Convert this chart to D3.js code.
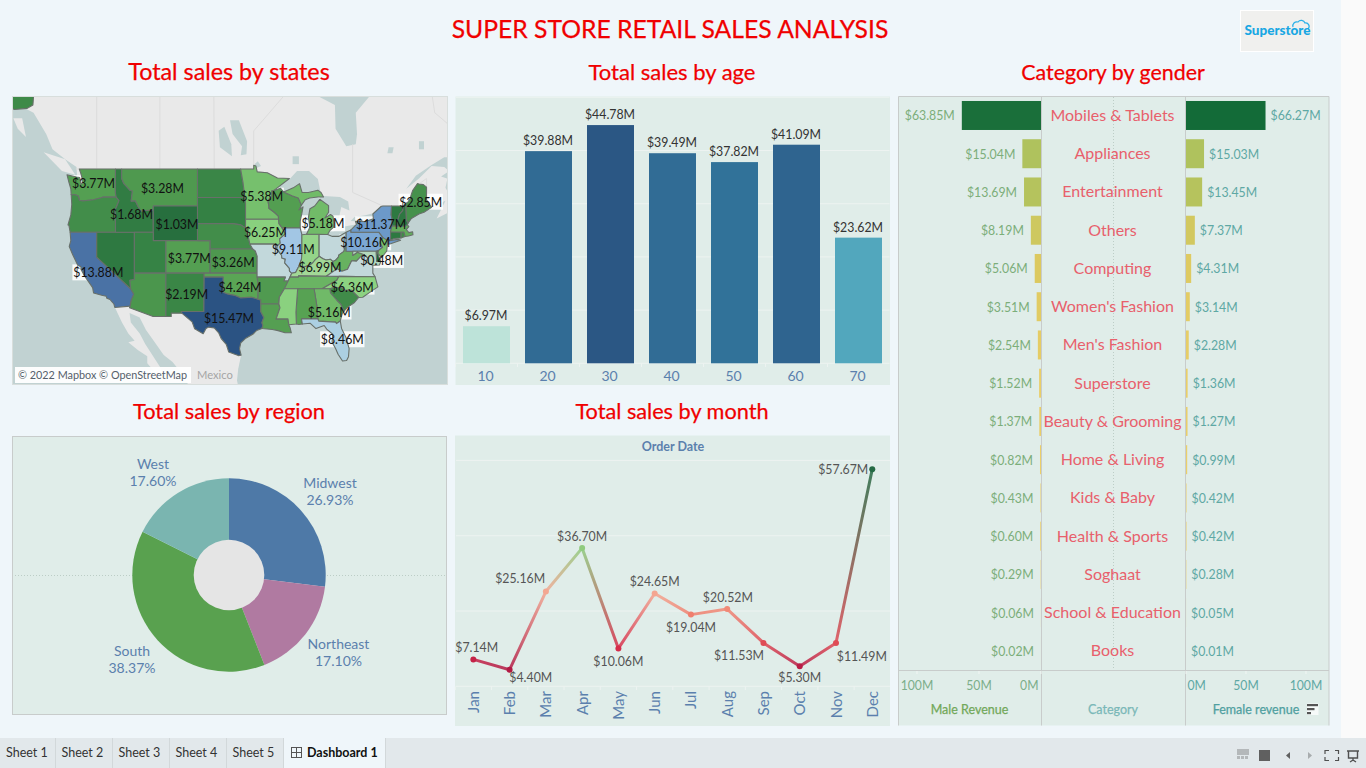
<!DOCTYPE html>
<html>
<head>
<meta charset="utf-8">
<script src="https://cdn.jsdelivr.net/npm/d3@7"></script>
<style>
html,body{margin:0;padding:0;background:#eff6fa;overflow:hidden}
svg{display:block}
text{font-family:Lato,"Open Sans",sans-serif}
</style>
</head>
<body>
<svg id="c" width="1366" height="768"></svg>
<script>
// ---------- DATA ----------
const ageLabels = ["10","20","30","40","50","60","70"];
const ageSales = [6.97,39.88,44.78,39.49,37.82,41.09,23.62];
const regionNames = ["Midwest","Northeast","South","West"];
const regionShares = [26.93,17.10,38.37,17.60];
const months = ["Jan","Feb","Mar","Apr","May","Jun","Jul","Aug","Sep","Oct","Nov","Dec"];
const monthSales = [7.14,4.40,25.16,36.70,10.06,24.65,19.04,20.52,11.53,5.30,11.49,57.67];
const categories = ["Mobiles & Tablets","Appliances","Entertainment","Others","Computing","Women's Fashion","Men's Fashion","Superstore","Beauty & Grooming","Home & Living","Kids & Baby","Health & Sports","Soghaat","School & Education","Books"];
const maleRevenue = [63.85,15.04,13.69,8.19,5.06,3.51,2.54,1.52,1.37,0.82,0.43,0.60,0.29,0.06,0.02];
const femaleRevenue = [66.27,15.03,13.45,7.37,4.31,3.14,2.28,1.36,1.27,0.99,0.42,0.42,0.28,0.05,0.01];
const tabNames = ["Sheet 1","Sheet 2","Sheet 3","Sheet 4","Sheet 5"];

// state sales ($M); unlabelled states are estimated from their colour
const stateSales = {WA:3.77,OR:2.6,CA:13.88,NV:1.5,ID:1.68,MT:3.28,WY:1.03,UT:2.0,CO:3.77,AZ:3.1,NM:2.19,ND:2.2,SD:1.9,NE:2.6,KS:3.26,OK:4.24,TX:15.47,MN:5.38,IA:6.25,MO:7.7,AR:3.4,LA:3.8,WI:3.7,IL:9.11,IN:6.6,OH:7.7,MI:5.18,KY:6.99,TN:4.9,WV:4.8,VA:7.7,NC:6.36,SC:2.5,GA:5.16,AL:4.0,MS:6.3,FL:8.46,PA:10.16,NY:11.37,NJ:5.5,DE:0.48,MD:7.4,CT:1.5,RI:2.5,MA:4.6,VT:1.5,NH:1.4,ME:2.85,AK:2.4};
const mapLabelStates = ["WA","MT","MN","ID","WY","IA","MI","NY","PA","IL","CO","KS","KY","DE","NC","OK","NM","CA","TX","GA","FL","ME"];
const mapLabelLonLat = [[-120.5,47.5],[-109.6,46.95],[-93.9,46.15],[-114.5,44.06],[-107.3,42.92],[-93.3,41.98],[-84.2,43.04],[-75.0,42.92],[-77.5,40.8],[-88.9,39.96],[-105.35,38.86],[-98.4,38.36],[-84.66,37.74],[-74.9,38.65],[-79.55,35.28],[-97.33,35.28],[-105.76,34.28],[-119.75,37.1],[-99.07,31.08],[-83.19,32.0],[-81.13,28.2],[-68.72,45.48]];

// simplified state outlines [lon,lat]
const stateOutlines = {
WA:[[-124.7,48.38],[-123.2,48.15],[-122.7,48.1],[-122.5,47.4],[-122.3,47.5],[-122.3,48],[-122.5,48.5],[-122.76,49],[-117.03,49],[-117.04,46.42],[-116.92,45.99],[-118.98,46],[-119.3,45.93],[-120.5,45.7],[-121.2,45.65],[-122.2,45.58],[-122.75,45.65],[-122.9,46.1],[-123.4,46.25],[-124.05,46.27],[-124.1,46.9],[-124.4,47.6]],
OR:[[-124.05,46.27],[-123.4,46.25],[-122.9,46.1],[-122.75,45.65],[-122.2,45.58],[-121.2,45.65],[-120.5,45.7],[-119.3,45.93],[-118.98,46],[-116.92,45.99],[-116.47,45.6],[-116.85,44.95],[-117.2,44.45],[-117.03,44.2],[-117.03,42],[-124.21,42],[-124.4,42.8],[-124.55,42.84],[-124.1,44],[-123.95,45.2]],
CA:[[-124.21,42],[-120,42],[-120,39],[-114.63,35],[-114.14,34.3],[-114.53,33.5],[-114.72,32.72],[-117.12,32.53],[-117.3,33],[-117.9,33.6],[-118.4,33.75],[-118.5,34.03],[-119.2,34.15],[-120.5,34.45],[-120.65,35.15],[-121.9,36.6],[-122.5,37.5],[-122.5,37.8],[-123,38],[-123.8,39.3],[-124.35,40.3],[-124.1,41]],
NV:[[-120,42],[-114.04,42],[-114.04,36.2],[-114.75,36.1],[-114.63,35],[-120,39]],
ID:[[-117.03,49],[-116.05,49],[-116.05,48],[-115.7,47.45],[-114.75,46.75],[-114.35,46.65],[-114.55,45.55],[-113.9,45.6],[-113.45,44.95],[-113,44.45],[-111.5,44.55],[-111.05,44.47],[-111.05,42],[-117.03,42],[-117.03,44.2],[-117.2,44.45],[-116.85,44.95],[-116.47,45.6],[-116.92,45.99],[-117.04,46.42]],
MT:[[-116.05,49],[-104.05,49],[-104.05,45],[-111.05,45],[-111.05,44.47],[-111.5,44.55],[-113,44.45],[-113.45,44.95],[-113.9,45.6],[-114.55,45.55],[-114.35,46.65],[-114.75,46.75],[-115.7,47.45],[-116.05,48]],
WY:[[-111.05,45],[-104.05,45],[-104.05,41],[-111.05,41]],
UT:[[-114.04,42],[-111.05,42],[-111.05,41],[-109.05,41],[-109.05,37],[-114.04,37]],
CO:[[-109.05,41],[-102.05,41],[-102.05,37],[-109.05,37]],
AZ:[[-114.75,36.1],[-114.04,36.2],[-114.04,37],[-109.05,37],[-109.05,31.33],[-111.07,31.33],[-114.81,32.5],[-114.72,32.72],[-114.53,33.5],[-114.14,34.3],[-114.63,35]],
NM:[[-109.05,37],[-103,37],[-103.04,32],[-106.62,32],[-106.53,31.78],[-108.21,31.78],[-108.21,31.33],[-109.05,31.33]],
ND:[[-104.05,49],[-97.23,49],[-96.85,47.6],[-96.56,45.94],[-104.05,45.94]],
SD:[[-104.05,45.94],[-96.56,45.94],[-96.45,45.3],[-96.45,43.5],[-96.45,42.49],[-97.2,42.85],[-98.5,43],[-104.05,43]],
NE:[[-104.05,43],[-98.5,43],[-97.2,42.85],[-96.45,42.49],[-96.1,41.7],[-95.85,40.9],[-95.31,40],[-102.05,40],[-102.05,41],[-104.05,41]],
KS:[[-102.05,40],[-95.31,40],[-94.9,39.75],[-94.61,39.1],[-94.62,37],[-102.05,37]],
OK:[[-103,37],[-94.62,37],[-94.43,35.4],[-94.48,33.64],[-95.5,33.9],[-96.6,33.85],[-97.2,33.8],[-98.1,34.13],[-99.2,34.3],[-100,34.56],[-100,36.5],[-103,36.5]],
TX:[[-103,36.5],[-100,36.5],[-100,34.56],[-99.2,34.3],[-98.1,34.13],[-97.2,33.8],[-96.6,33.85],[-95.5,33.9],[-94.48,33.64],[-94.04,33.55],[-94.04,32],[-93.55,31.2],[-93.85,30.5],[-93.7,30.1],[-93.85,29.7],[-94.7,29.4],[-95.3,28.9],[-96.4,28.35],[-97.2,27.7],[-97.4,26.9],[-97.15,25.96],[-97.6,25.9],[-99.1,26.4],[-99.5,27.5],[-100.3,28.3],[-100.7,29.1],[-101.4,29.77],[-102.3,29.88],[-102.7,29.7],[-103.15,28.98],[-104.5,29.65],[-104.9,30.6],[-106.53,31.78],[-106.62,32],[-103.04,32]],
MN:[[-97.23,49],[-95.15,49],[-95.15,49.38],[-94.8,49.3],[-94.6,48.7],[-93,48.6],[-91.4,48.05],[-89.5,48],[-92,46.7],[-92.3,46.65],[-92.3,46.1],[-92.9,45.6],[-92.75,45],[-92.75,44.75],[-91.9,44.3],[-91.25,43.85],[-91.22,43.5],[-96.45,43.5],[-96.45,45.3],[-96.56,45.94],[-96.85,47.6]],
IA:[[-96.45,43.5],[-91.22,43.5],[-91.15,43],[-90.65,42.5],[-90.15,41.8],[-91.05,41.2],[-90.95,40.7],[-91.42,40.38],[-91.72,40.6],[-95.77,40.58],[-95.85,40.9],[-96.1,41.7],[-96.45,42.49]],
MO:[[-95.77,40.58],[-91.72,40.6],[-91.42,40.38],[-91.5,40],[-90.75,39.25],[-90.7,38.9],[-90.15,38.75],[-90.25,38.3],[-89.5,37.6],[-89.5,37.3],[-89.13,36.98],[-89.4,36.5],[-89.7,36],[-90.37,36],[-90.15,36.5],[-94.62,36.5],[-94.62,37],[-94.61,39.1],[-94.9,39.75],[-95.31,40]],
AR:[[-94.62,36.5],[-90.15,36.5],[-90.37,36],[-89.7,36],[-90.1,35.1],[-90.3,35],[-90.6,34.6],[-91.1,33.9],[-91.17,33],[-94.04,33],[-94.04,33.55],[-94.48,33.64],[-94.43,35.4]],
LA:[[-94.04,33],[-91.17,33],[-91,32.5],[-91.6,31],[-89.73,31],[-89.6,30.2],[-89.4,29.8],[-89.2,29.1],[-90.2,29.1],[-91.3,29.4],[-92.2,29.55],[-93.85,29.7],[-93.7,30.1],[-93.85,30.5],[-93.55,31.2],[-94.04,32]],
WI:[[-92,46.7],[-90.9,46.95],[-90.4,46.55],[-89.1,46.15],[-88.1,45.9],[-87.6,45.1],[-88,44.55],[-87.35,44.9],[-87.5,44.3],[-87.8,43.3],[-87.8,42.49],[-90.65,42.5],[-91.15,43],[-91.22,43.5],[-91.25,43.85],[-91.9,44.3],[-92.75,44.75],[-92.75,45],[-92.9,45.6],[-92.3,46.1],[-92.3,46.65]],
IL:[[-90.65,42.5],[-87.8,42.49],[-87.53,41.7],[-87.53,39.35],[-87.6,38.7],[-88.05,37.8],[-88.5,37.1],[-89.13,36.98],[-89.5,37.3],[-89.5,37.6],[-90.25,38.3],[-90.15,38.75],[-90.7,38.9],[-90.75,39.25],[-91.5,40],[-91.42,40.38],[-90.95,40.7],[-91.05,41.2],[-90.15,41.8]],
IN:[[-87.53,41.7],[-86.8,41.76],[-84.8,41.76],[-84.8,39.1],[-85.4,38.7],[-85.8,38.3],[-86.3,38],[-87.1,37.8],[-88.05,37.8],[-87.6,38.7],[-87.53,39.35]],
OH:[[-84.8,41.76],[-83.45,41.72],[-82.7,41.5],[-81.7,41.5],[-80.52,41.98],[-80.52,40.64],[-80.6,40.6],[-80.87,39.7],[-81.7,39.25],[-81.75,39],[-82.2,38.6],[-82.6,38.45],[-83,38.73],[-83.7,38.65],[-84.2,38.8],[-84.8,39.1]],
MI:[[-86.8,41.76],[-84.8,41.76],[-83.45,41.72],[-83.1,42.2],[-82.5,42.6],[-82.45,43],[-82.6,43.85],[-83,44.05],[-83.9,43.65],[-83.3,44.3],[-83.3,45.05],[-84.7,45.75],[-85.5,45],[-86.25,44.7],[-86.5,43.7],[-86.25,42.6]],
MIU:[[-90.4,46.55],[-89.1,46.15],[-88.1,45.9],[-87.6,45.1],[-87,45.7],[-86.3,45.9],[-85,46],[-84.1,46],[-84.5,46.5],[-85,46.75],[-86.5,46.5],[-87.5,46.5],[-87.9,47.45],[-88.9,47]],
KY:[[-89.4,36.5],[-89.13,36.98],[-88.5,37.1],[-88.05,37.8],[-87.1,37.8],[-86.3,38],[-85.8,38.3],[-85.4,38.7],[-84.8,39.1],[-84.2,38.8],[-83.7,38.65],[-83,38.73],[-82.6,38.45],[-82.6,37.9],[-81.97,37.54],[-83.67,36.6],[-88.07,36.65],[-88.07,36.5]],
TN:[[-90.3,35],[-89.7,36],[-89.4,36.5],[-88.07,36.5],[-88.07,36.65],[-83.67,36.6],[-81.68,36.59],[-82,36.1],[-84.32,35]],
WV:[[-82.6,38.45],[-82.2,38.6],[-81.75,39],[-81.7,39.25],[-80.87,39.7],[-80.6,40.6],[-80.52,40.64],[-80.52,39.72],[-79.48,39.72],[-79.48,39.2],[-78.75,39.6],[-77.75,39.33],[-78.3,39],[-78.9,38.5],[-79.65,38.55],[-80.3,37.5],[-81.2,37.25],[-81.97,37.54],[-82.6,37.9]],
VA:[[-83.67,36.6],[-81.97,37.54],[-81.2,37.25],[-80.3,37.5],[-79.65,38.55],[-78.9,38.5],[-78.3,39],[-77.75,39.33],[-77.1,38.9],[-77.3,38.4],[-76.3,38],[-76.3,37],[-75.95,36.55],[-81.68,36.59]],
NC:[[-84.32,35],[-82,36.1],[-81.68,36.59],[-75.95,36.55],[-75.5,35.25],[-76.5,34.7],[-77.9,33.9],[-78.55,33.86],[-79.67,34.8],[-80.8,34.82],[-81.05,35.1],[-82.3,35.2],[-83.1,35]],
SC:[[-83.1,35],[-82.3,35.2],[-81.05,35.1],[-80.8,34.82],[-79.67,34.8],[-78.55,33.86],[-79.2,33.2],[-80.4,32.5],[-80.85,32.05],[-81.4,33],[-82,33.5],[-83,34.45]],
GA:[[-85.6,35],[-84.32,35],[-83.1,35],[-83,34.45],[-82,33.5],[-81.4,33],[-80.85,32.05],[-81.15,31.7],[-81.45,30.72],[-82.05,30.37],[-82.2,30.57],[-84.86,30.7],[-85,31],[-85.05,31.5],[-85.18,32.87]],
AL:[[-88.2,35],[-85.6,35],[-85.18,32.87],[-85.05,31.5],[-85,31],[-87.6,31],[-87.45,30.3],[-88,30.25],[-88.4,30.3],[-88.47,31.9]],
MS:[[-90.3,35],[-88.2,35],[-88.47,31.9],[-88.4,30.3],[-89.6,30.2],[-89.73,31],[-91.6,31],[-91,32.5],[-91.17,33],[-91.1,33.9],[-90.6,34.6]],
FL:[[-87.6,31],[-85,31],[-84.86,30.7],[-82.2,30.57],[-82.05,30.37],[-81.45,30.72],[-81.25,29.7],[-80.55,28.45],[-80.05,26.9],[-80.15,25.75],[-80.45,25.2],[-81.1,25.13],[-81.8,26.1],[-82.2,26.9],[-82.75,27.8],[-82.65,28.9],[-83.6,29.6],[-84,30.1],[-85.3,29.68],[-86.2,30.4],[-87.45,30.3]],
PA:[[-80.52,41.98],[-79.76,42.27],[-79.76,42],[-75.35,42],[-74.7,41.36],[-75.1,40.95],[-75.15,40.7],[-74.75,40.2],[-75.42,39.8],[-75.79,39.72],[-80.52,39.72],[-80.52,40.64]],
NY:[[-79.76,42.27],[-78.9,42.9],[-79.05,43.27],[-77.5,43.25],[-76.2,43.55],[-76.3,44.1],[-75,44.95],[-74.7,45],[-73.34,45],[-73.4,44],[-73.25,43.55],[-73.27,42.75],[-73.5,42.05],[-73.49,41.2],[-73.65,41],[-72.3,41.15],[-71.9,41.05],[-73.6,40.6],[-74,40.6],[-74,41],[-74.7,41.36],[-75.35,42],[-79.76,42]],
NJ:[[-74.7,41.36],[-74,41],[-74,40.5],[-74.1,39.75],[-74.9,38.95],[-75.55,39.5],[-75.42,39.8],[-74.75,40.2],[-75.15,40.7],[-75.1,40.95]],
DE:[[-75.79,39.72],[-75.42,39.8],[-75.55,39.5],[-75.05,38.45],[-75.7,38.46]],
MD:[[-79.48,39.72],[-75.79,39.72],[-75.7,38.46],[-75.05,38.45],[-75.25,38.03],[-75.95,38],[-76.3,38],[-77.3,38.4],[-77.1,38.9],[-77.75,39.33],[-78.75,39.6],[-79.48,39.2]],
CT:[[-73.5,42.05],[-71.8,42.02],[-71.85,41.32],[-72.9,41.25],[-73.65,41],[-73.49,41.2]],
RI:[[-71.8,42.02],[-71.38,42.02],[-71.2,41.5],[-71.85,41.32]],
MA:[[-73.27,42.75],[-71.3,42.7],[-70.85,42.88],[-70.6,42.65],[-71,42.3],[-70.6,41.95],[-70,42.05],[-69.95,41.7],[-70.65,41.55],[-71.2,41.5],[-71.38,42.02],[-71.8,42.02],[-73.5,42.05]],
VT:[[-73.34,45],[-71.5,45],[-71.55,44.5],[-72.05,44.1],[-72.45,43.2],[-72.46,42.73],[-73.27,42.75],[-73.25,43.55],[-73.4,44]],
NH:[[-71.5,45],[-71.08,45.3],[-70.98,43.4],[-70.7,43.08],[-70.85,42.88],[-71.3,42.7],[-72.46,42.73],[-72.45,43.2],[-72.05,44.1],[-71.55,44.5]],
ME:[[-71.08,45.3],[-70.8,45.4],[-70.4,45.8],[-70.25,46.2],[-70,46.7],[-69.23,47.46],[-69,47.42],[-68.3,47.35],[-67.8,47.07],[-67.8,45.7],[-67.45,45.3],[-67,44.85],[-68.2,44.3],[-69,44.1],[-70.2,43.6],[-70.7,43.08],[-70.98,43.4]],
AK:[[-136,58],[-130,58],[-130,56],[-130.1,55.2],[-131,54.9],[-133,54.8],[-134,55],[-136,55]]
};
stateSales.MIU = stateSales.MI;

// base map geography
const landOutline = [[-136,60],[-136,56],[-131,54.8],[-130,54.5],[-128,52.5],[-127,51],[-125,50],[-123.2,49.2],[-123,47],[-123.5,43],[-122,38],[-118.5,34.5],[-117.12,32.53],[-116,30.5],[-115,29],[-114,28],[-115,27.8],[-113.5,26.7],[-112,25.8],[-112,24.8],[-110.3,23],[-109.5,23],[-110,24.3],[-111.2,26],[-112.3,27.5],[-113.2,29],[-114.6,30.5],[-114.8,31.8],[-113.2,31.2],[-112.2,29.5],[-110.9,27.9],[-109.4,26],[-108,25],[-106.5,23.3],[-105.4,21.5],[-105.4,19],[-97,19],[-97.5,21],[-97.8,22.3],[-97.6,24],[-97.15,25.96],[-97.5,28],[-94,30.5],[-89.5,31],[-84,31],[-81.5,31],[-77,35.5],[-76.5,37],[-77,38],[-74.5,40.5],[-70.5,43.5],[-67.5,45],[-66,45.2],[-64.8,45.6],[-66.2,43.6],[-64.5,44.2],[-63,44.7],[-61,45.3],[-60,46.2],[-60.5,47],[-61.5,45.8],[-64,46],[-64.8,47],[-64.5,48],[-65.5,48.2],[-64.2,48.8],[-65,49.2],[-67,49.3],[-69,48],[-71,46.9],[-69.5,48.3],[-67,49.4],[-65,50.2],[-61,50.2],[-58,51.5],[-56,52],[-55.5,54],[-60,56],[-60,60]];
const islandOutlines = [[[-128.4,50.7],[-125.5,48.8],[-123.4,48.4],[-125,50]],[[-133.2,54],[-131.8,54],[-131.2,52.2],[-132.5,53]]];
const waterBodies = [
[[-85,56],[-82.3,55.2],[-82.2,53],[-80.5,51.3],[-79,51.5],[-78.8,52.5],[-79,54.5],[-76.5,56.2],[-80,57],[-85,57]],
[[-92.1,46.75],[-90.5,47.6],[-89.3,48.05],[-88.3,48.8],[-86.4,48.8],[-85,47.95],[-84.6,46.6],[-86.5,46.5],[-87.5,46.5],[-87.9,47.45],[-88.9,47],[-90.4,46.55],[-90.9,46.95]],
[[-87.8,42.5],[-87.53,41.7],[-86.8,41.76],[-86.25,42.6],[-86.5,43.7],[-86.25,44.7],[-85.5,45],[-84.7,45.75],[-85,46],[-86.3,45.9],[-87,45.7],[-87.6,45.1],[-88,44.55],[-87.35,44.9],[-87.5,44.3],[-87.8,43.3]],
[[-84.7,45.75],[-83.3,45.05],[-83.3,44.3],[-83.9,43.65],[-83,44.05],[-82.45,43],[-81.7,43.5],[-81.3,44.9],[-80,44.5],[-80.2,45.5],[-81.5,46],[-84,46.1],[-84.7,46]],
[[-83.45,41.72],[-82.7,41.5],[-81.7,41.5],[-80.52,41.98],[-79.76,42.27],[-78.9,42.9],[-79.5,42.85],[-81,42.65],[-82.5,42.1],[-83.1,42.1]],
[[-79.8,43.3],[-79.05,43.27],[-77.5,43.25],[-76.2,43.55],[-76.4,44.15],[-77.5,43.95],[-79.2,43.75]],
[[-97.2,50.4],[-96.3,50.5],[-96.2,51.8],[-97.5,53.8],[-98.9,53.8],[-98.5,52.5],[-97,51.3]],
[[-100.5,51.2],[-98.6,50.3],[-98.7,51.5],[-99.8,53.2],[-100.7,52.8]],
[[-89,49.5],[-88,49.5],[-88,50.3],[-89,50.3]],
[[-95,49],[-94,49.3],[-94.5,49.8],[-95,49.5]],
[[-74,50.6],[-73.2,50.6],[-73,51.2],[-73.8,51.2]],
[[-69,51],[-68.2,51],[-68.2,51.8],[-69,51.8]]
];
const provinceBorders = [
[[-120,49],[-120,60]],[[-110,49],[-110,60]],[[-101.4,49],[-101.5,60]],
[[-95.15,49.4],[-95.15,52.8],[-89,56.9]],[[-79.5,46.5],[-79.5,51.5]],
[[-123.3,49],[-95.15,49]],
[[-67.8,47.07],[-67.8,48],[-69,47.42]],[[-71.5,45],[-74.7,45],[-79.5,46.5]],
[[-66.9,56],[-66.5,54.5],[-64.5,53.5],[-63.5,52]],[[-132,55],[-130,56.2]]
];

// ---------- SCALES / HELPERS ----------
const svg = d3.select("#c");
const RED = "#f00000", PANEL = "#e0ede9", BLUE_TXT = "#5b80ad";
const money = v => "$" + v.toFixed(2) + "M";
// Lato's digits run wider than the reference's font: fit numeric text to the reference's width
const squeeze = (sel,r) => sel.each(function(){ this.setAttribute("lengthAdjust","spacingAndGlyphs"); this.setAttribute("textLength", this.getComputedTextLength()*r); });
function rect(x,y,w,h,fill,stroke){return svg.append("rect").attr("x",x).attr("y",y).attr("width",w).attr("height",h).attr("fill",fill).attr("stroke",stroke||"none");}
function title(t,x,y,s){svg.append("text").attr("x",x).attr("y",y).attr("text-anchor","middle").attr("font-size",s).attr("fill",RED).attr("stroke",RED).attr("stroke-width",.25).text(t);}

// page frame
rect(1341,0,25,738,"#fafafa");
title("SUPER STORE RETAIL SALES ANALYSIS",670,38,24.7);
title("Total sales by states",229,80,23.3);
title("Total sales by age",672,80,22);
title("Category by gender",1113,80,21.4);
title("Total sales by region",229,419,21.8);
title("Total sales by month",672,419,21.7);

// logo
rect(1240.5,10.5,73,41,"#f0f0ee","#ffffff");
svg.append("path").attr("d","M1293 27 a4 4 0 0 1 5 -5 a4 4 0 0 1 7 1 a3.5 3.5 0 0 1 3 6").attr("fill","none").attr("stroke","#2ab0e8").attr("stroke-width",1.2);
svg.append("text").attr("x",1277.5).attr("y",35).attr("text-anchor","middle").attr("font-size",13.5).attr("font-weight",900).attr("fill","#18a7e3").text("Superstore");

// ---------- MAP ----------
const mapX=13,mapY=97,mapW=434,mapH=287;
const projection = d3.geoMercator().scale(362).translate([854.9,525.1]);
const lonlatLine = d3.line().x(d=>projection(d)[0]).y(d=>projection(d)[1]);
svg.append("clipPath").attr("id","mapclip").append("rect").attr("x",mapX).attr("y",mapY).attr("width",mapW).attr("height",mapH);
const mapG = svg.append("g").attr("clip-path","url(#mapclip)");
mapG.append("rect").attr("x",mapX).attr("y",mapY).attr("width",mapW).attr("height",mapH).attr("fill","#c1d2d2");
mapG.append("path").attr("d",lonlatLine(landOutline)+"Z").attr("fill","#e9e9e9");
mapG.selectAll(".isl").data(islandOutlines).join("path").attr("d",d=>lonlatLine(d)+"Z").attr("fill","#e9e9e9");
mapG.selectAll(".wb").data(waterBodies).join("path").attr("d",d=>lonlatLine(d)+"Z").attr("fill","#c1d2d2");
mapG.selectAll(".pb").data(provinceBorders).join("path").attr("d",d=>lonlatLine(d)).attr("fill","none").attr("stroke","#dcdcdc").attr("stroke-width",1);

const stateColor = d3.scaleLinear()
 .domain([0.5,1.03,2,3.3,4.2,5.4,6.3,7,7.7,8.5,9.1,10.2,11.4,13.9,15.5])
 .range(["#206838","#276f3e","#368345","#4f994f","#59a454","#76c06d","#8ad17f","#a2d896","#c2d8db","#abd0e2","#a2c6e4","#7ba7d4","#6c99c9","#4a72a5","#2a5282"]);
const mapLabels = mapLabelStates.map((s,i)=>{const p=projection(mapLabelLonLat[i]);return {t:money(stateSales[s]),x:p[0],y:p[1]};});
// label halos sit under the state fills, so they only show over the base map
mapG.selectAll(".halo").data(mapLabels).join("rect").attr("x",d=>d.x-d.t.length*3.7).attr("y",d=>d.y-8).attr("width",d=>d.t.length*7.4).attr("height",16).attr("fill","#fff").attr("opacity",.88);
mapG.selectAll(".st").data(Object.keys(stateOutlines)).join("path")
 .attr("d",k=>lonlatLine(stateOutlines[k])+"Z")
 .attr("fill",k=>stateColor(stateSales[k]))
 .attr("stroke","#68706a").attr("stroke-width",1.1).attr("stroke-linejoin","round");
squeeze(mapG.selectAll(".ml").data(mapLabels).join("text").attr("x",d=>d.x).attr("y",d=>d.y+5).attr("text-anchor","middle").attr("font-size",14).attr("fill","#111").text(d=>d.t),.88);
rect(15,367,176,16,"#fff").attr("opacity",.95);
svg.append("text").attr("x",18).attr("y",379).attr("font-size",10.8).attr("fill","#555f6b").attr("lengthAdjust","spacingAndGlyphs").attr("textLength",169).text("© 2022 Mapbox © OpenStreetMap");
svg.append("text").attr("x",197).attr("y",379).attr("font-size",11.2).attr("fill","#a5a5a5").text("Mexico");
rect(mapX-.5,mapY-.5,mapW+1,mapH+1,"none","#d8dedc");

// ---------- BARS BY AGE ----------
rect(455.5,96.5,434.5,288.5,PANEL);
const ageX = d3.scaleBand().domain(ageLabels).range([455.5,889.5]).paddingInner(0.242).paddingOuter(0.121);
const ageY = d3.scaleLinear().domain([0,50]).range([363.3,97.3]);
const ageColor = d3.scaleLinear().domain([6.97,23.62,37.82,39.88,41.09,44.78]).range(["#bde3d9","#52a7bd","#317299","#316b94","#2f648f","#2b5784"]);
svg.append("g").selectAll("line").data(ageY.ticks(5)).join("line")
 .attr("x1",455.5).attr("x2",889.5).attr("y1",d=>ageY(d)).attr("y2",d=>ageY(d)).attr("stroke","#edf3f1").attr("stroke-width",1);
svg.append("g").selectAll("rect").data(ageSales).join("rect")
 .attr("x",(d,i)=>ageX(ageLabels[i])).attr("width",ageX.bandwidth()).attr("y",d=>ageY(d)).attr("height",d=>ageY(0)-ageY(d)).attr("fill",d=>ageColor(d));
squeeze(svg.append("g").selectAll("text").data(ageSales).join("text")
 .attr("x",(d,i)=>ageX(ageLabels[i])+ageX.bandwidth()/2-.5).attr("y",d=>ageY(d)-6).attr("text-anchor","middle").attr("font-size",14).attr("fill","#333").text(money),.88);
ageLabels.forEach((l,i)=>{
 const bs = ageX.step(), x0 = 455.5+i*bs;
 svg.append("line").attr("x1",x0).attr("x2",x0).attr("y1",363.3).attr("y2",367).attr("stroke","#edf3f1");
 svg.append("text").attr("x",ageX(l)+ageX.bandwidth()/2-1).attr("y",381).attr("text-anchor","middle").attr("font-size",14).attr("fill",BLUE_TXT).text(l);
});

// ---------- PIE ----------
rect(12.5,436.5,434,278,PANEL,"#c8cccb");
svg.append("line").attr("x1",15).attr("x2",445).attr("y1",575.5).attr("y2",575.5).attr("stroke","#bccdc6").attr("stroke-dasharray","1 2");
const pieC=[229,575], pieColor = d3.scaleOrdinal().domain(regionNames).range(["#4e79a7","#b07aa1","#59a14f","#7ab5b0"]);
const pie = d3.pie().sort(null).value((d,i)=>regionShares[i])(regionNames);
const pieG = svg.append("g").attr("transform",`translate(${pieC})`);
pieG.selectAll("path").data(pie).join("path").attr("d",d3.arc().innerRadius(0).outerRadius(96.7)).attr("fill",d=>pieColor(d.data));
pieG.append("circle").attr("r",35.3).attr("fill","#e5e5e5");
const pieLabelAnchor = [[330,483],[338.5,644],[132,651],[153,464]];
regionNames.forEach((n,i)=>{
 const g = svg.append("text").attr("text-anchor","middle").attr("font-size",14).attr("fill",BLUE_TXT);
 g.append("tspan").attr("x",pieLabelAnchor[i][0]).attr("y",pieLabelAnchor[i][1]+5).text(n);
 g.append("tspan").attr("x",pieLabelAnchor[i][0]).attr("y",pieLabelAnchor[i][1]+22).text(regionShares[i].toFixed(2)+"%");
});

// ---------- LINE ----------
rect(455,435.5,435,290.5,PANEL);
svg.append("text").attr("x",673).attr("y",451).attr("text-anchor","middle").attr("font-size",12.5).attr("font-weight",700).attr("fill",BLUE_TXT).text("Order Date");
const mX = d3.scaleBand().domain(months).range([455.2,890.4]);
const mY = d3.scaleLinear().domain([0,60]).range([686.3,460.4]);
const mC = d3.scaleLinear().domain([5.3,10.06,11.5,19,25,36.7,57.67]).range(["#b81c45","#d62c4a","#df4b55","#f07f6e","#f4a792","#8fcb7f","#246a44"]);
const cx = m => mX(m)+mX.bandwidth()/2;
svg.append("g").selectAll("line").data(mY.ticks(3)).join("line")
 .attr("x1",456).attr("x2",890).attr("y1",d=>mY(d)).attr("y2",d=>mY(d)).attr("stroke","#edf3f1");
months.forEach((m,i)=>{
 svg.append("line").attr("x1",mX(m)).attr("x2",mX(m)).attr("y1",686.3).attr("y2",690).attr("stroke","#edf3f1");
 svg.append("text").attr("transform",`translate(${cx(m)+5.5},691) rotate(-90)`).attr("text-anchor","end").attr("font-size",15).attr("fill",BLUE_TXT).text(m);
});
const defs = svg.append("defs");
months.slice(1).forEach((m,i)=>{
 const a=months[i], va=monthSales[i], vb=monthSales[i+1];
 const gr=defs.append("linearGradient").attr("id","seg"+i).attr("gradientUnits","userSpaceOnUse")
  .attr("x1",cx(a)).attr("y1",mY(va)).attr("x2",cx(m)).attr("y2",mY(vb));
 gr.append("stop").attr("offset",0).attr("stop-color",mC(va));
 gr.append("stop").attr("offset",1).attr("stop-color",mC(vb));
 svg.append("line").attr("x1",cx(a)).attr("y1",mY(va)).attr("x2",cx(m)).attr("y2",mY(vb))
  .attr("stroke",`url(#seg${i})`).attr("stroke-width",3).attr("stroke-linecap","round").attr("stroke-opacity",.85);
});
svg.append("g").selectAll("circle").data(monthSales).join("circle").attr("cx",(d,i)=>cx(months[i])).attr("cy",d=>mY(d)).attr("r",3).attr("fill",d=>mC(d));
const monthLabelOffset = [[3.4,-12.7],[21.2,7],[-25.7,-13.3],[0,-12.4],[0,12.3],[0,-12.8],[0,12.1],[.7,-12.3],[-24.5,11.8],[0,10.4],[25.8,12.7],[-29,-.5]];
squeeze(svg.append("g").selectAll("text").data(monthSales).join("text")
 .attr("x",(d,i)=>cx(months[i])+monthLabelOffset[i][0]).attr("y",(d,i)=>mY(d)+monthLabelOffset[i][1]+5).attr("text-anchor","middle").attr("font-size",14).attr("fill","#555").text(money),.88);

// ---------- CATEGORY BY GENDER ----------
rect(898.5,96.5,430.5,629,PANEL);
const rowY = d3.scaleBand().domain(categories).range([96.4,670]).paddingInner(0.242).paddingOuter(0.12);
const maleX = d3.scaleLinear().domain([0,100]).range([1041,917]);
const femX = d3.scaleLinear().domain([0,100]).range([1186,1306]);
const catC = d3.scaleLinear().domain([0,5,8,15,66.3]).range(["#eed06c","#dcc95f","#cfc85f","#afc25d","#136b38"]);
svg.append("line").attr("x1",1113.5).attr("x2",1113.5).attr("y1",97).attr("y2",670).attr("stroke","#bccdc6").attr("stroke-dasharray","1 2");
svg.append("g").selectAll("rect").data(maleRevenue).join("rect")
 .attr("x",d=>maleX(d)).attr("width",d=>maleX(0)-maleX(d)).attr("y",(d,i)=>rowY(categories[i])).attr("height",rowY.bandwidth()).attr("fill",d=>catC(d));
svg.append("g").selectAll("rect").data(femaleRevenue).join("rect")
 .attr("x",femX(0)).attr("width",d=>femX(d)-femX(0)).attr("y",(d,i)=>rowY(categories[i])).attr("height",rowY.bandwidth()).attr("fill",d=>catC(d));
const rowMid = c => rowY(c)+rowY.bandwidth()/2+5;
squeeze(svg.append("g").selectAll("text").data(maleRevenue).join("text").attr("x",d=>maleX(d)-7).attr("y",(d,i)=>rowMid(categories[i])).attr("text-anchor","end").attr("font-size",14).attr("fill","#7cae7a").text(money),.88);
squeeze(svg.append("g").selectAll("text").data(femaleRevenue).join("text").attr("x",d=>femX(d)+5).attr("y",(d,i)=>rowMid(categories[i])).attr("font-size",14).attr("fill","#5ea8a4").text(money),.88);
svg.append("g").selectAll("text").data(categories).join("text").attr("x",1112.5).attr("y",d=>rowMid(d)+.5).attr("text-anchor","middle").attr("font-size",16).attr("fill","#e8606c").text(d=>d);
// frame
[[898.5,96.5,898.5,725.5],[1329,96.5,1329,725.5],[898.5,96.5,1329,96.5],[1041.5,96.5,1041.5,725.5],[1185.5,96.5,1185.5,725.5],[898.5,670.5,1329,670.5]]
 .forEach(l=>svg.append("line").attr("x1",l[0]).attr("y1",l[1]).attr("x2",l[2]).attr("y2",l[3]).attr("stroke","#c8cccb"));
const axisTicks=[0,50,100];
axisTicks.forEach(t=>{
 const lx = maleX(t), rx = femX(t);
 svg.append("line").attr("x1",lx).attr("x2",lx).attr("y1",671).attr("y2",674).attr("stroke","#f2f6f4");
 svg.append("line").attr("x1",rx).attr("x2",rx).attr("y1",671).attr("y2",674).attr("stroke","#f2f6f4");
 squeeze(svg.append("text").attr("x",t===0?1038.5:lx).attr("y",690).attr("text-anchor",t===0?"end":"middle").attr("font-size",14).attr("fill","#7cae8a").text(t+"M"),.87);
 squeeze(svg.append("text").attr("x",t===0?1187.5:rx).attr("y",690).attr("text-anchor",t===0?"start":"middle").attr("font-size",14).attr("fill","#5ea8a4").text(t+"M"),.87);
});
svg.append("text").attr("x",969.5).attr("y",714).attr("text-anchor","middle").attr("font-size",12.5).attr("font-weight",400).attr("stroke","#72a85a").attr("stroke-width",.25).attr("fill","#72a85a").text("Male Revenue");
svg.append("text").attr("x",1113).attr("y",714).attr("text-anchor","middle").attr("font-size",12.5).attr("font-weight",400).attr("stroke","#7ab8b8").attr("stroke-width",.25).attr("fill","#7ab8b8").text("Category");
svg.append("text").attr("x",1256).attr("y",714).attr("text-anchor","middle").attr("font-size",12.5).attr("font-weight",400).attr("stroke","#4f9fa0").attr("stroke-width",.25).attr("fill","#4f9fa0").text("Female revenue");
rect(1307,703.5,11.5,11.5,"#fff").attr("opacity",.7);
rect(1307,704,11,2.2,"#555"); rect(1307,708,7.5,2.2,"#555"); rect(1307,712,4,2.2,"#555");

// ---------- TAB BAR ----------
rect(0,738,1366,30,"#e2e8eb");
const tabW=[55.5,57,57,57,57];
let tx=0;
tabNames.forEach((t,i)=>{
 svg.append("text").attr("x",tx+6).attr("y",757).attr("font-size",12.5).attr("fill","#333").text(t);
 tx+=tabW[i];
 svg.append("line").attr("x1",tx).attr("x2",tx).attr("y1",738).attr("y2",768).attr("stroke","#d2d8da");
});
rect(tx+.5,738,101,30,"#eff6fa");
svg.append("line").attr("x1",385.5).attr("x2",385.5).attr("y1",738).attr("y2",768).attr("stroke","#d2d8da");
[[291.5,747.5,10,10]].forEach(r=>{rect(r[0],r[1],r[2],r[3],"none","#555");
 svg.append("path").attr("d","M296.5 747.5V757.5M291.5 752.5H301.5").attr("stroke","#555");});
svg.append("text").attr("x",307).attr("y",757).attr("font-size",12.5).attr("font-weight",700).attr("fill","#111").text("Dashboard 1");
// status icons
rect(1237,749,12,6,"#b4b8ba"); rect(1237,756,3,3,"#b4b8ba"); rect(1241,756,3,3,"#b4b8ba"); rect(1245,756,3,3,"#b4b8ba");
rect(1259,750,11,11,"#606060");
svg.append("path").attr("d","M1290 752 l-4 3.5 l4 3.5Z").attr("fill","#606060");
svg.append("path").attr("d","M1308 752 l4 3.5 l-4 3.5Z").attr("fill","#a8acae");
svg.append("path").attr("d","M1325 754v-3.5h4M1335 750.5h3.5v3.5M1338.5 757v3.5h-3.5M1329 760.5h-4v-3.5").attr("fill","none").attr("stroke","#505050").attr("stroke-width",1.2);
svg.append("path").attr("d","M1347 751h12M1348.5 751v7h9v-7M1353 758v3M1350 762l3-2 3 2").attr("fill","none").attr("stroke","#505050").attr("stroke-width",1.4);
</script>
</body>
</html>
